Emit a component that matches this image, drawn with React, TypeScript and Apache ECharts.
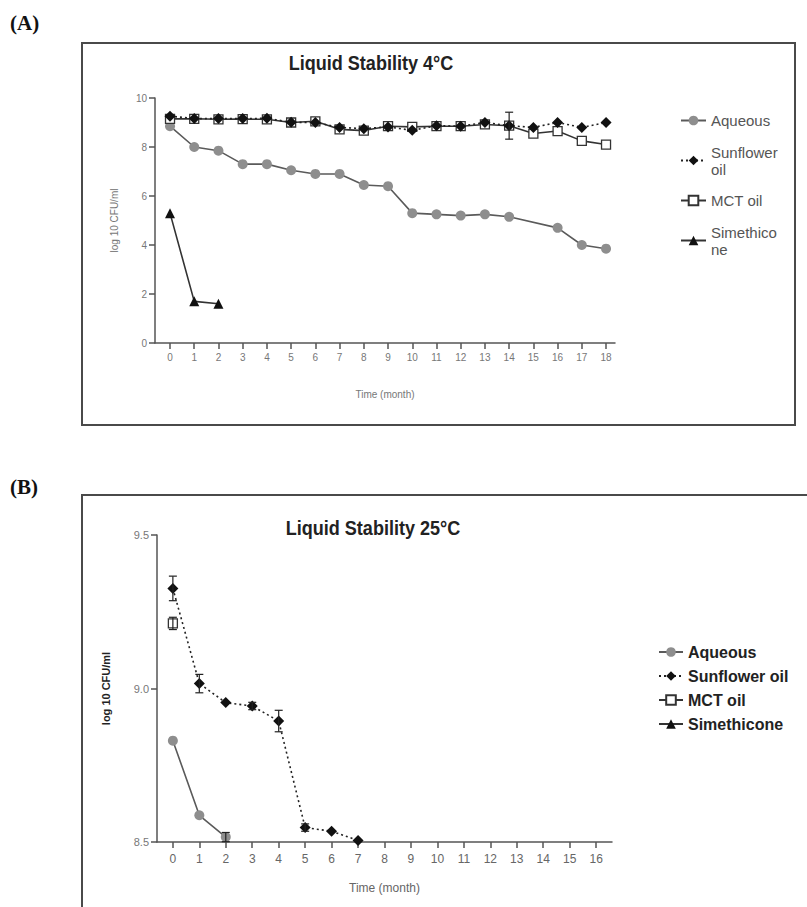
import React, { useEffect, useRef } from "react";
import * as echarts from "echarts";

// ---------- Data ----------
const seriesNames = ["Aqueous", "Sunflower oil", "MCT oil", "Simethicone"];

// Panel A: Liquid Stability 4°C
const monthsA = [0, 1, 2, 3, 4, 5, 6, 7, 8, 9, 10, 11, 12, 13, 14, 15, 16, 17, 18];
const aqueousA = [8.85, 8.0, 7.85, 7.3, 7.3, 7.05, 6.9, 6.9, 6.45, 6.4, 5.3, 5.25, 5.2, 5.25, 5.15, null, 4.7, 4.0, 3.85];
const sunflowerA = [9.26, 9.16, 9.16, 9.16, 9.17, 9.01, 9.0, 8.8, 8.75, 8.82, 8.68, 8.87, 8.85, 9.0, 8.87, 8.8, 9.0, 8.8, 9.0];
const mctA = [9.15, 9.15, 9.13, 9.14, 9.13, 9.0, 9.05, 8.72, 8.67, 8.85, 8.82, 8.85, 8.85, 8.92, 8.87, 8.55, 8.65, 8.25, 8.1];
const simethiconeA = [5.3, 1.7, 1.6];
const sunflowerErrA = [0, 0, 0, 0, 0, 0, 0, 0, 0, 0, 0, 0, 0, 0, 0.55, 0, 0, 0, 0];
const xTicksA = [0, 1, 2, 3, 4, 5, 6, 7, 8, 9, 10, 11, 12, 13, 14, 15, 16, 17, 18];

// Panel B: Liquid Stability 25°C
const monthsB = [0, 1, 2, 3, 4, 5, 6, 7];
const aqueousB = [8.83, 8.587, 8.516];
const aqueousErrB = [0, 0, 0.015];
const sunflowerB = [9.326, 9.016, 8.954, 8.943, 8.894, 8.547, 8.535, 8.505];
const sunflowerErrB = [0.04, 0.03, 0, 0.012, 0.035, 0.012, 0, 0];
const mctB = [9.212];
const mctErrB = [0.02];
const simethiconeB: number[] = [];
const xTicksB = [0, 1, 2, 3, 4, 5, 6, 7, 8, 9, 10, 11, 12, 13, 14, 15, 16];

// ---------- helpers ----------
const pairs = (xs: number[], ys: (number | null)[]) =>
  ys.map((v, i) => (v == null ? null : [xs[i], v])).filter((p) => p != null) as number[][];

const errs = (xs: number[], ys: number[], es: number[]) =>
  ys
    .map((v, i) => (es[i] > 0 ? [xs[i], v - es[i], v + es[i]] : null))
    .filter((p) => p != null) as number[][];

const errorRender = (params: any, api: any) => {
  const x = api.value(0);
  const lo = api.coord([x, api.value(1)]);
  const hi = api.coord([x, api.value(2)]);
  const w = 4;
  const st = { stroke: "#222", lineWidth: 1.2 };
  return {
    type: "group",
    children: [
      { type: "line", shape: { x1: lo[0], y1: lo[1], x2: hi[0], y2: hi[1] }, style: st },
      { type: "line", shape: { x1: lo[0] - w, y1: lo[1], x2: lo[0] + w, y2: lo[1] }, style: st },
      { type: "line", shape: { x1: hi[0] - w, y1: hi[1], x2: hi[0] + w, y2: hi[1] }, style: st },
    ],
  };
};

const styles: Record<string, any> = {
  Aqueous: {
    symbol: "circle",
    symbolSize: 10,
    itemStyle: { color: "#8e8e8e" },
    lineStyle: { color: "#5a5a5a", width: 1.6 },
    z: 2,
  },
  "Sunflower oil": {
    symbol: "diamond",
    symbolSize: 11,
    itemStyle: { color: "#111" },
    lineStyle: { color: "#222", width: 1.6, type: [2, 3] },
    z: 4,
  },
  "MCT oil": {
    symbol: "rect",
    symbolSize: 9,
    itemStyle: { color: "#fff", borderColor: "#333", borderWidth: 1.3 },
    lineStyle: { color: "#333", width: 1.6 },
    z: 3,
  },
  Simethicone: {
    symbol: "triangle",
    symbolSize: 10,
    itemStyle: { color: "#111" },
    lineStyle: { color: "#333", width: 1.6 },
    z: 5,
  },
};

const lineSeries = (name: string, data: number[][], gi: number) => ({
  type: "line",
  name,
  data,
  xAxisIndex: gi,
  yAxisIndex: gi,
  showSymbol: true,
  ...styles[name],
});

const errSeries = (data: number[][], gi: number) => ({
  type: "custom",
  renderItem: errorRender,
  data,
  xAxisIndex: gi,
  yAxisIndex: gi,
  encode: { x: 0, y: [1, 2] },
  z: 6,
  silent: true,
});

const wrapA: Record<string, string> = {
  Aqueous: "Aqueous",
  "Sunflower oil": "Sunflower\noil",
  "MCT oil": "MCT oil",
  Simethicone: "Simethico\nne",
};

const sansFont = "'Liberation Sans', Arial, sans-serif";
const serifFont = "'Liberation Serif', 'Times New Roman', serif";

export default function App() {
  const ref = useRef<HTMLDivElement>(null);
  useEffect(() => {
    if (!ref.current) return;
    const chart = echarts.init(ref.current, null, { renderer: "svg" });
    const option: any = {
      animation: false,
      backgroundColor: "#fff",
      graphic: [
        {
          type: "rect",
          shape: { x: 82, y: 43, width: 713, height: 382 },
          style: { fill: "none", stroke: "#4a4a4a", lineWidth: 2 },
          z: -1,
        },
        {
          type: "rect",
          shape: { x: 82, y: 495, width: 760, height: 440 },
          style: { fill: "none", stroke: "#4a4a4a", lineWidth: 2 },
          z: -1,
        },
        {
          type: "text",
          left: 10,
          top: 12,
          style: { text: "(A)", font: `bold 21px ${serifFont}`, fill: "#111" },
        },
        {
          type: "text",
          left: 10,
          top: 476,
          style: { text: "(B)", font: `bold 21px ${serifFont}`, fill: "#111" },
        },
        {
          type: "text",
          x: 371,
          y: 62,
          scaleX: 0.86,
          style: {
            text: "Liquid Stability 4°C",
            font: `bold 21px ${sansFont}`,
            fill: "#222",
            align: "center",
            verticalAlign: "middle",
          },
        },
        {
          type: "text",
          x: 373,
          y: 527,
          scaleX: 0.86,
          style: {
            text: "Liquid Stability 25°C",
            font: `bold 21px ${sansFont}`,
            fill: "#222",
            align: "center",
            verticalAlign: "middle",
          },
        },
      ],
      legend: [
        {
          data: seriesNames,
          orient: "vertical",
          left: 675,
          top: 107,
          itemWidth: 25,
          itemHeight: 12,
          itemGap: 14.5,
          formatter: (n: string) => wrapA[n] || n,
          textStyle: { fontSize: 15, color: "#555", lineHeight: 17, fontFamily: sansFont },
        },
        {
          data: seriesNames,
          orient: "vertical",
          left: 653,
          top: 638,
          itemWidth: 24,
          itemHeight: 12,
          itemGap: 6,
          textStyle: { fontSize: 16, fontWeight: "bold", color: "#222", lineHeight: 18, fontFamily: sansFont },
        },
      ],
      grid: [
        { left: 155, top: 98, width: 460, height: 245 },
        { left: 157, top: 535, width: 455, height: 307 },
      ],
      xAxis: [
        {
          type: "value",
          gridIndex: 0,
          min: -0.62,
          max: 18.37,
          splitLine: { show: false },
          axisLine: { onZero: false, lineStyle: { color: "#555", width: 1.5 } },
          axisTick: { show: true, length: 6, customValues: xTicksA, lineStyle: { color: "#555", width: 1.5 } },
          axisLabel: { customValues: xTicksA, fontSize: 10, color: "#777", margin: 9, fontFamily: sansFont },
          name: "Time (month)",
          nameLocation: "middle",
          nameGap: 46,
          nameTextStyle: { fontSize: 10, color: "#777", fontFamily: sansFont },
        },
        {
          type: "value",
          gridIndex: 1,
          min: -0.6,
          max: 16.6,
          splitLine: { show: false },
          axisLine: { onZero: false, lineStyle: { color: "#555", width: 1.5 } },
          axisTick: { show: true, length: 6, customValues: xTicksB, lineStyle: { color: "#555", width: 1.5 } },
          axisLabel: { customValues: xTicksB, fontSize: 12, color: "#666", margin: 11, fontFamily: sansFont },
          name: "Time (month)",
          nameLocation: "middle",
          nameGap: 40,
          nameTextStyle: { fontSize: 12, color: "#666", fontFamily: sansFont },
        },
      ],
      yAxis: [
        {
          type: "value",
          gridIndex: 0,
          min: 0,
          max: 10,
          interval: 2,
          splitLine: { show: false },
          axisLine: { show: true, onZero: false, lineStyle: { color: "#555", width: 1.5 } },
          axisTick: { show: true, length: 6, lineStyle: { color: "#555", width: 1.5 } },
          axisLabel: { fontSize: 10, color: "#777", margin: 8, fontFamily: sansFont },
          name: "log 10 CFU/ml",
          nameLocation: "middle",
          nameGap: 36,
          nameTextStyle: { fontSize: 10, color: "#777", fontFamily: sansFont },
        },
        {
          type: "value",
          gridIndex: 1,
          min: 8.5,
          max: 9.5,
          interval: 0.5,
          splitLine: { show: false },
          axisLine: { show: true, onZero: false, lineStyle: { color: "#555", width: 1.5 } },
          axisTick: { show: true, length: 6, lineStyle: { color: "#555", width: 1.5 } },
          axisLabel: {
            fontSize: 11,
            color: "#777",
            margin: 8,
            fontFamily: sansFont,
            formatter: (v: number) => v.toFixed(1),
          },
          name: "log 10 CFU/ml",
          nameLocation: "middle",
          nameGap: 46,
          nameTextStyle: { fontSize: 11, fontWeight: "bold", color: "#222", fontFamily: sansFont },
        },
      ],
      series: [
        lineSeries("Aqueous", pairs(monthsA, aqueousA), 0),
        lineSeries("Sunflower oil", pairs(monthsA, sunflowerA), 0),
        lineSeries("MCT oil", pairs(monthsA, mctA), 0),
        lineSeries("Simethicone", pairs(monthsA, simethiconeA), 0),
        errSeries(errs(monthsA, sunflowerA, sunflowerErrA), 0),
        lineSeries("Aqueous", pairs(monthsB, aqueousB), 1),
        lineSeries("Sunflower oil", pairs(monthsB, sunflowerB), 1),
        lineSeries("MCT oil", pairs(monthsB, mctB), 1),
        lineSeries("Simethicone", pairs(monthsB, simethiconeB), 1),
        errSeries(errs(monthsB, aqueousB, aqueousErrB), 1),
        errSeries(errs(monthsB, sunflowerB, sunflowerErrB), 1),
        errSeries(errs(monthsB, mctB, mctErrB), 1),
      ],
    };
    chart.setOption(option);
    return () => chart.dispose();
  }, []);
  return (
    <div
      ref={ref}
      style={{ position: "fixed", left: 0, top: 0, width: 807, height: 907, background: "#fff" }}
    />
  );
}
